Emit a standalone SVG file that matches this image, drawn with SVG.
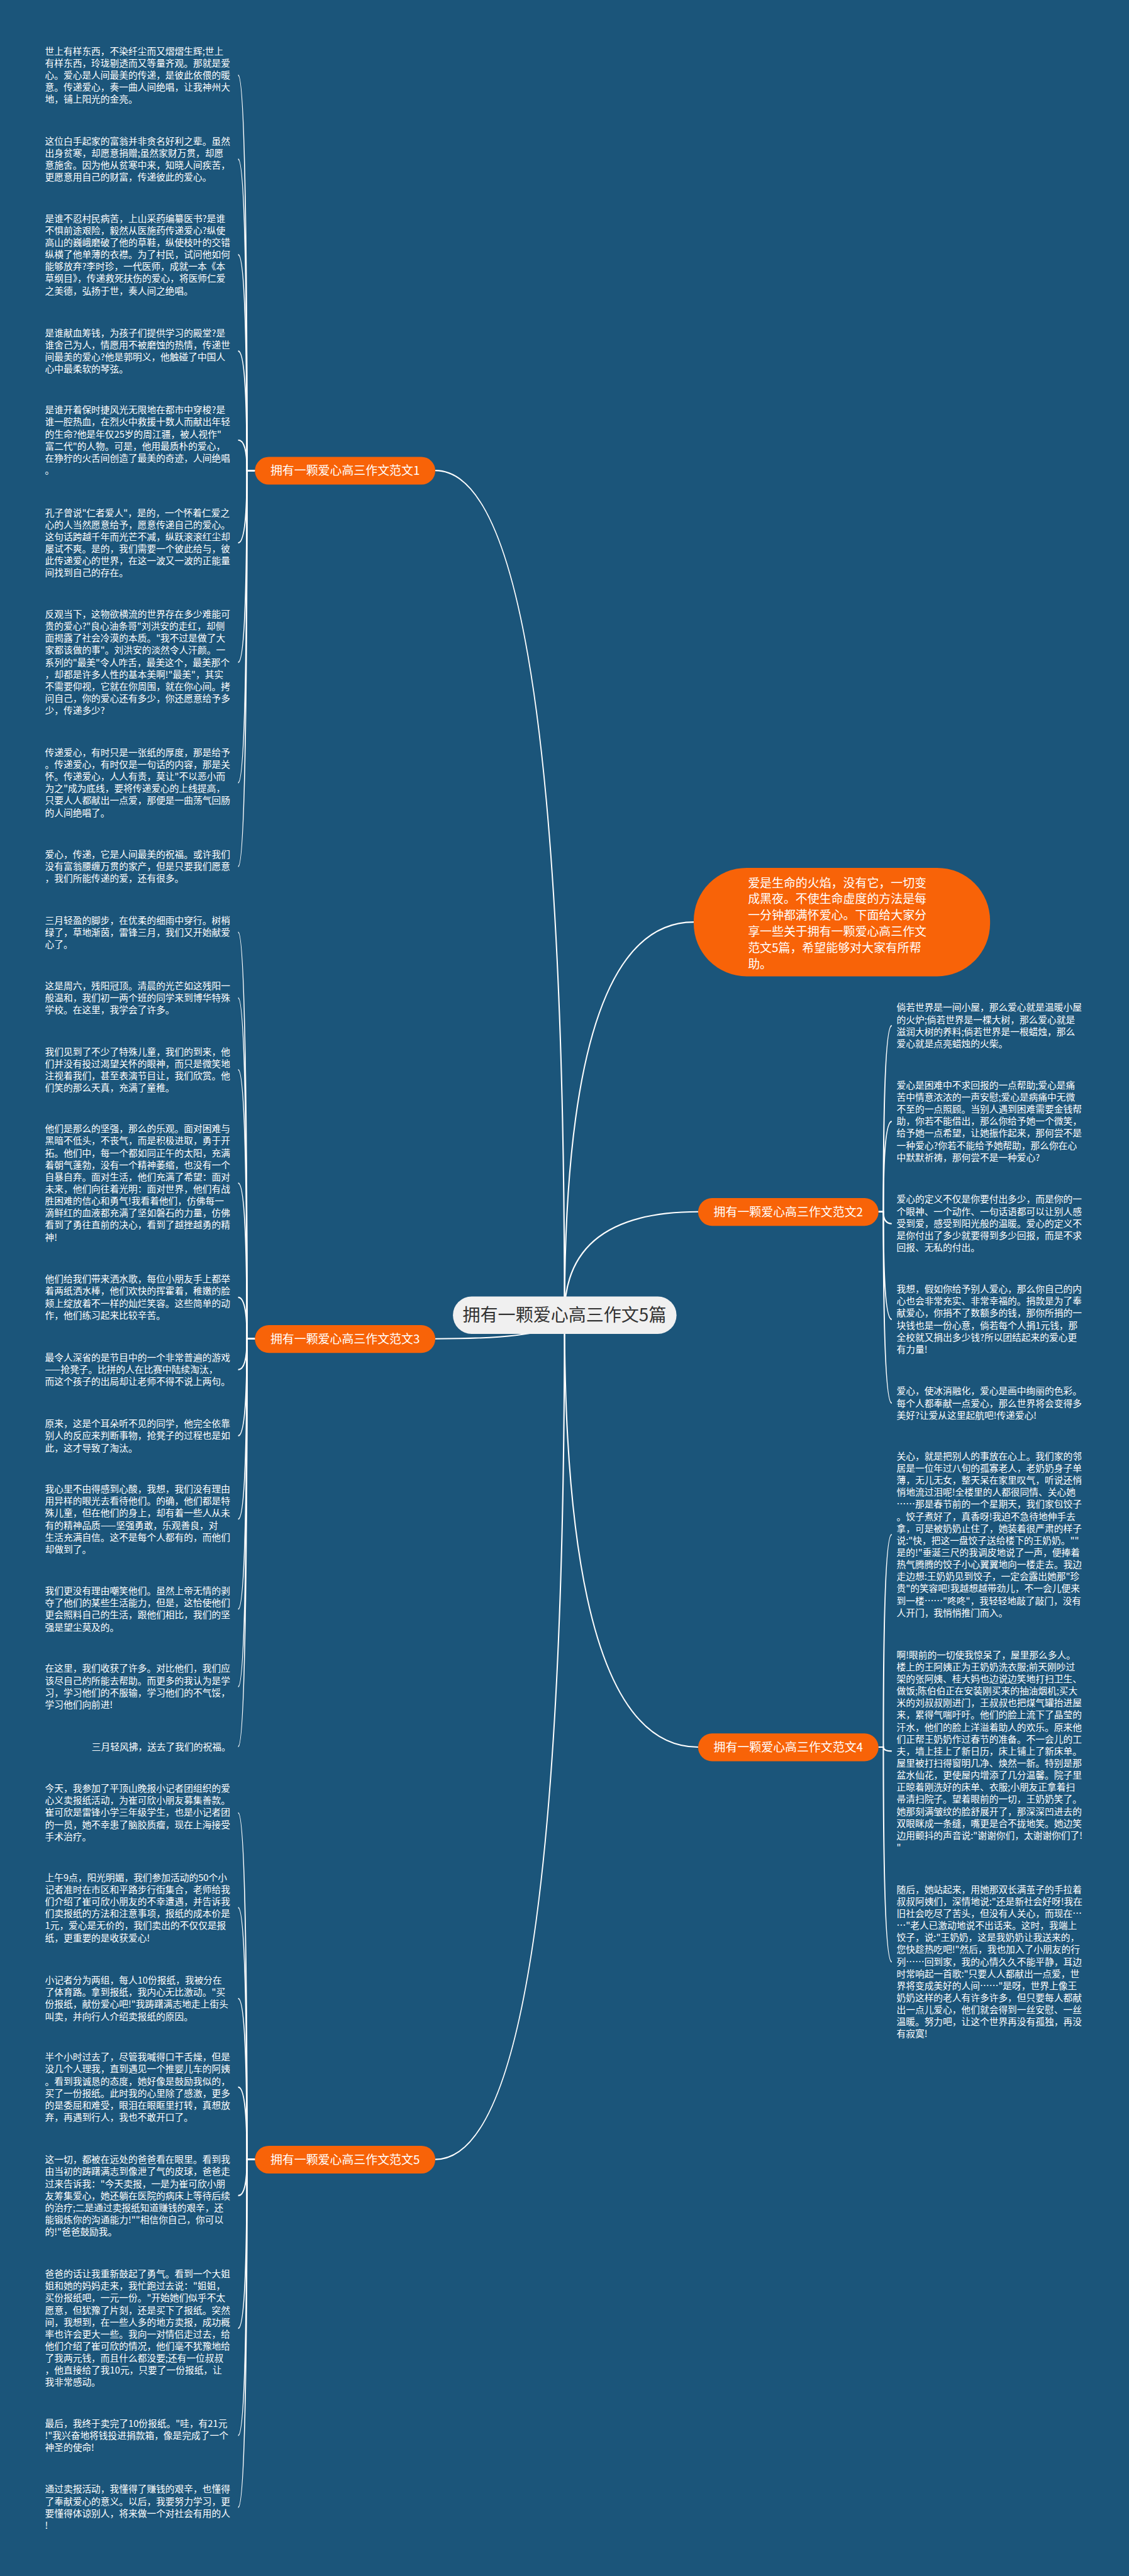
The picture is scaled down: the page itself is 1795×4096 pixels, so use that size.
<svg xmlns="http://www.w3.org/2000/svg" width="1795" height="4096" viewBox="0 0 1795 4096">
<style>
.lf{font-family:"Noto Sans CJK SC","Noto Sans",sans-serif;font-size:21px;fill:#ffffff}
.brn rect{fill:#f86308}
.brn text{font-family:"Noto Sans CJK SC","Noto Sans",sans-serif;font-size:27px;fill:#ffffff;text-anchor:middle}
.cn rect{fill:#f0f0f0}
.cn text{font-family:"Noto Sans CJK SC","Noto Sans",sans-serif;font-size:40px;fill:#333333;text-anchor:middle}
.co text{font-family:"Noto Sans CJK SC","Noto Sans",sans-serif;font-size:27px;fill:#ffffff}
.conn path{fill:none;stroke:#ffffff;stroke-width:3}
</style>
<rect width="1795" height="4096" fill="#1b557a"/>
<g transform="scale(0.70117)">
<g id="connectors" class="conn">
<path d="M987,1067 Q1280,1067 1280,2982"/>
<path d="M987,3036 Q1280,3036 1280,2982"/>
<path d="M987,4897 Q1280,4897 1280,2982"/>
<path d="M1583,2748 Q1280,2748 1280,2982"/>
<path d="M1583,3962 Q1280,3962 1280,2982"/>
<path d="M1573,2091 Q1280,2091 1280,2982"/>
<path d="M578,1067 L560,1067 Q560,170.6 540,170.6"/>
<path d="M578,1067 L560,1067 Q560,361 540,361"/>
<path d="M578,1067 L560,1067 Q560,577.5 540,577.5"/>
<path d="M578,1067 L560,1067 Q560,796 540,796"/>
<path d="M578,1067 L560,1067 Q560,998 540,998"/>
<path d="M578,1067 L560,1067 Q560,1231 540,1231"/>
<path d="M578,1067 L560,1067 Q560,1502 540,1502"/>
<path d="M578,1067 L560,1067 Q560,1775 540,1775"/>
<path d="M578,1067 L560,1067 Q560,1965 540,1965"/>
<path d="M578,3036 L560,3036 Q560,2114 540,2114"/>
<path d="M578,3036 L560,3036 Q560,2263 540,2263"/>
<path d="M578,3036 L560,3036 Q560,2426 540,2426"/>
<path d="M578,3036 L560,3036 Q560,2683 540,2683"/>
<path d="M578,3036 L560,3036 Q560,2942 540,2942"/>
<path d="M578,3036 L560,3036 Q560,3106 540,3106"/>
<path d="M578,3036 L560,3036 Q560,3256 540,3256"/>
<path d="M578,3036 L560,3036 Q560,3445 540,3445"/>
<path d="M578,3036 L560,3036 Q560,3649 540,3649"/>
<path d="M578,3036 L560,3036 Q560,3825 540,3825"/>
<path d="M578,3036 L560,3036 Q560,3961 540,3961"/>
<path d="M578,4897 L560,4897 Q560,4111 540,4111"/>
<path d="M578,4897 L560,4897 Q560,4326 540,4326"/>
<path d="M578,4897 L560,4897 Q560,4532 540,4532"/>
<path d="M578,4897 L560,4897 Q560,4733 540,4733"/>
<path d="M578,4897 L560,4897 Q560,4979 540,4979"/>
<path d="M578,4897 L560,4897 Q560,5280 540,5280"/>
<path d="M578,4897 L560,4897 Q560,5523 540,5523"/>
<path d="M578,4897 L560,4897 Q560,5686 540,5686"/>
<path d="M1992,2748 L2003,2748 Q2003,2326 2022,2326"/>
<path d="M1992,2748 L2003,2748 Q2003,2543 2022,2543"/>
<path d="M1992,2748 L2003,2748 Q2003,2775 2022,2775"/>
<path d="M1992,2748 L2003,2748 Q2003,2992 2022,2992"/>
<path d="M1992,2748 L2003,2748 Q2003,3182 2022,3182"/>
<path d="M1992,3962 L2003,3962 Q2003,3480 2022,3480"/>
<path d="M1992,3962 L2003,3962 Q2003,3971 2022,3971"/>
<path d="M1992,3962 L2003,3962 Q2003,4449 2022,4449"/>
</g>
<g id="center" class="cn"><rect x="1027" y="2940" width="507" height="85" rx="42.5"/><text x="1280" y="2996">拥有一颗爱心高三作文5篇</text></g>
<g id="intro" class="co"><rect x="1573" y="1968" width="672" height="246" rx="120" fill="#f86308"/>
<text x="1696" y="2011.7"><tspan x="1696">爱是生命的火焰，没有它，一切变</tspan><tspan x="1696" dy="36.8">成黑夜。不使生命虚度的方法是每</tspan><tspan x="1696" dy="36.8">一分钟都满怀爱心。下面给大家分</tspan><tspan x="1696" dy="36.8">享一些关于拥有一颗爱心高三作文</tspan><tspan x="1696" dy="36.8">范文5篇，希望能够对大家有所帮</tspan><tspan x="1696" dy="36.8">助。</tspan></text></g>
<g id="b1" class="brn"><rect x="578" y="1036" width="409" height="63" rx="31.5"/><text x="782.5" y="1077">拥有一颗爱心高三作文范文1</text></g>
<g id="b3" class="brn"><rect x="578" y="3005" width="409" height="63" rx="31.5"/><text x="782.5" y="3046">拥有一颗爱心高三作文范文3</text></g>
<g id="b5" class="brn"><rect x="578" y="4866" width="409" height="63" rx="31.5"/><text x="782.5" y="4907">拥有一颗爱心高三作文范文5</text></g>
<g id="b2" class="brn"><rect x="1583" y="2717" width="409" height="63" rx="31.5"/><text x="1787.5" y="2758">拥有一颗爱心高三作文范文2</text></g>
<g id="b4" class="brn"><rect x="1583" y="3931" width="409" height="63" rx="31.5"/><text x="1787.5" y="3972">拥有一颗爱心高三作文范文4</text></g>
<g id="l1"><text class="lf" x="102" y="123.5"><tspan x="102">世上有样东西，不染纤尘而又熠熠生辉;世上</tspan><tspan x="102" dy="27.3">有样东西，玲珑剔透而又等量齐观。那就是爱</tspan><tspan x="102" dy="27.3">心。爱心是人间最美的传递，是彼此依偎的暖</tspan><tspan x="102" dy="27.3">意。传递爱心，奏一曲人间绝唱，让我神州大</tspan><tspan x="102" dy="27.3">地，铺上阳光的金亮。</tspan></text></g>
<g id="l2"><text class="lf" x="102" y="327.5"><tspan x="102">这位白手起家的富翁并非贪名好利之辈。虽然</tspan><tspan x="102" dy="27.3">出身贫寒，却愿意捐赠;虽然家财万贯，却愿</tspan><tspan x="102" dy="27.3">意施舍。因为他从贫寒中来，知晓人间疾苦，</tspan><tspan x="102" dy="27.3">更愿意用自己的财富，传递彼此的爱心。</tspan></text></g>
<g id="l3"><text class="lf" x="102" y="503"><tspan x="102">是谁不忍村民病苦，上山采药编纂医书?是谁</tspan><tspan x="102" dy="27.3">不惧前途艰险，毅然从医施药传递爱心?纵使</tspan><tspan x="102" dy="27.3">高山的巍峨磨破了他的草鞋，纵使枝叶的交错</tspan><tspan x="102" dy="27.3">纵横了他单薄的衣襟。为了村民，试问他如何</tspan><tspan x="102" dy="27.3">能够放弃?李时珍，一代医师，成就一本《本</tspan><tspan x="102" dy="27.3">草纲目》，传递救死扶伤的爱心，将医师仁爱</tspan><tspan x="102" dy="27.3">之美德，弘扬于世，奏人间之绝唱。</tspan></text></g>
<g id="l4"><text class="lf" x="102" y="762.5"><tspan x="102">是谁献血筹钱，为孩子们提供学习的殿堂?是</tspan><tspan x="102" dy="27.3">谁舍己为人，情愿用不被磨蚀的热情，传递世</tspan><tspan x="102" dy="27.3">间最美的爱心?他是郭明义，他触碰了中国人</tspan><tspan x="102" dy="27.3">心中最柔软的琴弦。</tspan></text></g>
<g id="l5"><text class="lf" x="102" y="937.5"><tspan x="102">是谁开着保时捷风光无限地在都市中穿梭?是</tspan><tspan x="102" dy="27.3">谁一腔热血，在烈火中救援十数人而献出年轻</tspan><tspan x="102" dy="27.3">的生命?他是年仅25岁的周江疆，被人视作"</tspan><tspan x="102" dy="27.3">富二代"的人物。可是，他用最质朴的爱心，</tspan><tspan x="102" dy="27.3">在狰狞的火舌间创造了最美的奇迹，人间绝唱</tspan><tspan x="102" dy="27.3">。</tspan></text></g>
<g id="l6"><text class="lf" x="102" y="1170.5"><tspan x="102">孔子曾说"仁者爱人"，是的，一个怀着仁爱之</tspan><tspan x="102" dy="27.3">心的人当然愿意给予，愿意传递自己的爱心。</tspan><tspan x="102" dy="27.3">这句话跨越千年而光芒不减，纵跃滚滚红尘却</tspan><tspan x="102" dy="27.3">屡试不爽。是的，我们需要一个彼此给与，彼</tspan><tspan x="102" dy="27.3">此传递爱心的世界，在这一波又一波的正能量</tspan><tspan x="102" dy="27.3">间找到自己的存在。</tspan></text></g>
<g id="l7"><text class="lf" x="102" y="1400.5"><tspan x="102">反观当下，这物欲横流的世界存在多少难能可</tspan><tspan x="102" dy="27.3">贵的爱心?"良心油条哥"刘洪安的走红，却侧</tspan><tspan x="102" dy="27.3">面揭露了社会冷漠的本质。"我不过是做了大</tspan><tspan x="102" dy="27.3">家都该做的事"。刘洪安的淡然令人汗颜。一</tspan><tspan x="102" dy="27.3">系列的"最美"令人咋舌，最美这个，最美那个</tspan><tspan x="102" dy="27.3">，却都是许多人性的基本美啊!"最美"，其实</tspan><tspan x="102" dy="27.3">不需要仰视，它就在你周围，就在你心间。拷</tspan><tspan x="102" dy="27.3">问自己，你的爱心还有多少，你还愿意给予多</tspan><tspan x="102" dy="27.3">少，传递多少?</tspan></text></g>
<g id="l8"><text class="lf" x="102" y="1714"><tspan x="102">传递爱心，有时只是一张纸的厚度，那是给予</tspan><tspan x="102" dy="27.3">。传递爱心，有时仅是一句话的内容，那是关</tspan><tspan x="102" dy="27.3">怀。传递爱心，人人有责，莫让"不以恶小而</tspan><tspan x="102" dy="27.3">为之"成为底线，要将传递爱心的上线提高，</tspan><tspan x="102" dy="27.3">只要人人都献出一点爱，那便是一曲荡气回肠</tspan><tspan x="102" dy="27.3">的人间绝唱了。</tspan></text></g>
<g id="l9"><text class="lf" x="102" y="1945.5"><tspan x="102">爱心，传递，它是人间最美的祝福。或许我们</tspan><tspan x="102" dy="27.3">没有富翁腰缠万贯的家产，但是只要我们愿意</tspan><tspan x="102" dy="27.3">，我们所能传递的爱，还有很多。</tspan></text></g>
<g id="l10"><text class="lf" x="102" y="2094.5"><tspan x="102">三月轻盈的脚步，在优柔的细雨中穿行。树梢</tspan><tspan x="102" dy="27.3">绿了，草地渐茵，雷锋三月，我们又开始献爱</tspan><tspan x="102" dy="27.3">心了。</tspan></text></g>
<g id="l11"><text class="lf" x="102" y="2243.5"><tspan x="102">这是周六，残阳冠顶。清晨的光芒如这残阳一</tspan><tspan x="102" dy="27.3">般温和，我们初一两个班的同学来到博华特殊</tspan><tspan x="102" dy="27.3">学校。在这里，我学会了许多。</tspan></text></g>
<g id="l12"><text class="lf" x="102" y="2392.5"><tspan x="102">我们见到了不少了特殊儿童，我们的到来，他</tspan><tspan x="102" dy="27.3">们并没有投过渴望关怀的眼神，而只是微笑地</tspan><tspan x="102" dy="27.3">注视着我们，甚至表演节目让，我们欣赏。他</tspan><tspan x="102" dy="27.3">们笑的那么天真，充满了童稚。</tspan></text></g>
<g id="l13"><text class="lf" x="102" y="2567.5"><tspan x="102">他们是那么的坚强，那么的乐观。面对困难与</tspan><tspan x="102" dy="27.3">黑暗不低头，不丧气，而是积极进取，勇于开</tspan><tspan x="102" dy="27.3">拓。他们中，每一个都如同正午的太阳，充满</tspan><tspan x="102" dy="27.3">着朝气蓬勃，没有一个精神萎缩，也没有一个</tspan><tspan x="102" dy="27.3">自暴自弃。面对生活，他们充满了希望：面对</tspan><tspan x="102" dy="27.3">未来，他们向往着光明：面对世界，他们有战</tspan><tspan x="102" dy="27.3">胜困难的信心和勇气!我看着他们，仿佛每一</tspan><tspan x="102" dy="27.3">滴鲜红的血液都充满了坚如磐石的力量，仿佛</tspan><tspan x="102" dy="27.3">看到了勇往直前的决心，看到了越挫越勇的精</tspan><tspan x="102" dy="27.3">神!</tspan></text></g>
<g id="l14"><text class="lf" x="102" y="2908.5"><tspan x="102">他们给我们带来洒水歌，每位小朋友手上都举</tspan><tspan x="102" dy="27.3">着两纸洒水棒，他们欢快的挥霍着，稚嫩的脸</tspan><tspan x="102" dy="27.3">颊上绽放着不一样的灿烂笑容。这些简单的动</tspan><tspan x="102" dy="27.3">作，他们练习起来比较辛苦。</tspan></text></g>
<g id="l15"><text class="lf" x="102" y="3086.5"><tspan x="102">最令人深省的是节目中的一个非常普遍的游戏</tspan><tspan x="102" dy="27.3">——抢凳子。比拼的人在比赛中陆续淘汰，</tspan><tspan x="102" dy="27.3">而这个孩子的出局却让老师不得不说上两句。</tspan></text></g>
<g id="l16"><text class="lf" x="102" y="3236.5"><tspan x="102">原来，这是个耳朵听不见的同学，他完全依靠</tspan><tspan x="102" dy="27.3">别人的反应来判断事物，抢凳子的过程也是如</tspan><tspan x="102" dy="27.3">此，这才导致了淘汰。</tspan></text></g>
<g id="l17"><text class="lf" x="102" y="3384.5"><tspan x="102">我心里不由得感到心酸，我想，我们没有理由</tspan><tspan x="102" dy="27.3">用异样的眼光去看待他们。的确，他们都是特</tspan><tspan x="102" dy="27.3">殊儿童，但在他们的身上，却有着一些人从未</tspan><tspan x="102" dy="27.3">有的精神品质——坚强勇敢，乐观善良，对</tspan><tspan x="102" dy="27.3">生活充满自信。这不是每个人都有的，而他们</tspan><tspan x="102" dy="27.3">却做到了。</tspan></text></g>
<g id="l18"><text class="lf" x="102" y="3615.5"><tspan x="102">我们更没有理由嘲笑他们。虽然上帝无情的剥</tspan><tspan x="102" dy="27.3">夺了他们的某些生活能力，但是，这恰使他们</tspan><tspan x="102" dy="27.3">更会照料自己的生活，跟他们相比，我们的坚</tspan><tspan x="102" dy="27.3">强是望尘莫及的。</tspan></text></g>
<g id="l19"><text class="lf" x="102" y="3791.5"><tspan x="102">在这里，我们收获了许多。对比他们，我们应</tspan><tspan x="102" dy="27.3">该尽自己的所能去帮助。而更多的我认为是学</tspan><tspan x="102" dy="27.3">习，学习他们的不服输，学习他们的不气馁，</tspan><tspan x="102" dy="27.3">学习他们向前进!</tspan></text></g>
<g id="l20"><text class="lf" x="208" y="3968.5">三月轻风拂，送去了我们的祝福。</text></g>
<g id="l21"><text class="lf" x="102" y="4063.5"><tspan x="102">今天，我参加了平顶山晚报小记者团组织的爱</tspan><tspan x="102" dy="27.3">心义卖报纸活动，为崔可欣小朋友募集善款。</tspan><tspan x="102" dy="27.3">崔可欣是雷锋小学三年级学生，也是小记者团</tspan><tspan x="102" dy="27.3">的一员，她不幸患了脑胶质瘤，现在上海接受</tspan><tspan x="102" dy="27.3">手术治疗。</tspan></text></g>
<g id="l22"><text class="lf" x="102" y="4265.5"><tspan x="102">上午9点，阳光明媚，我们参加活动的50个小</tspan><tspan x="102" dy="27.3">记者准时在市区和平路步行街集合，老师给我</tspan><tspan x="102" dy="27.3">们介绍了崔可欣小朋友的不幸遭遇，并告诉我</tspan><tspan x="102" dy="27.3">们卖报纸的方法和注意事项，报纸的成本价是</tspan><tspan x="102" dy="27.3">1元，爱心是无价的，我们卖出的不仅仅是报</tspan><tspan x="102" dy="27.3">纸，更重要的是收获爱心!</tspan></text></g>
<g id="l23"><text class="lf" x="102" y="4498.5"><tspan x="102">小记者分为两组，每人10份报纸，我被分在</tspan><tspan x="102" dy="27.3">了体育路。拿到报纸，我内心无比激动。"买</tspan><tspan x="102" dy="27.3">份报纸，献份爱心吧!"我踌躇满志地走上街头</tspan><tspan x="102" dy="27.3">叫卖，并向行人介绍卖报纸的原因。</tspan></text></g>
<g id="l24"><text class="lf" x="102" y="4672.5"><tspan x="102">半个小时过去了，尽管我喊得口干舌燥，但是</tspan><tspan x="102" dy="27.3">没几个人理我，直到遇见一个推婴儿车的阿姨</tspan><tspan x="102" dy="27.3">。看到我诚恳的态度，她好像是鼓励我似的，</tspan><tspan x="102" dy="27.3">买了一份报纸。此时我的心里除了感激，更多</tspan><tspan x="102" dy="27.3">的是委屈和难受，眼泪在眼眶里打转，真想放</tspan><tspan x="102" dy="27.3">弃，再遇到行人，我也不敢开口了。</tspan></text></g>
<g id="l25"><text class="lf" x="102" y="4905"><tspan x="102">这一切，都被在远处的爸爸看在眼里。看到我</tspan><tspan x="102" dy="27.3">由当初的踌躇满志到像泄了气的皮球，爸爸走</tspan><tspan x="102" dy="27.3">过来告诉我："今天卖报，一是为崔可欣小朋</tspan><tspan x="102" dy="27.3">友筹集爱心，她还躺在医院的病床上等待后续</tspan><tspan x="102" dy="27.3">的治疗;二是通过卖报纸知道赚钱的艰辛，还</tspan><tspan x="102" dy="27.3">能锻炼你的沟通能力!""相信你自己，你可以</tspan><tspan x="102" dy="27.3">的!"爸爸鼓励我。</tspan></text></g>
<g id="l26"><text class="lf" x="102" y="5164.5"><tspan x="102">爸爸的话让我重新鼓起了勇气。看到一个大姐</tspan><tspan x="102" dy="27.3">姐和她的妈妈走来，我忙跑过去说："姐姐，</tspan><tspan x="102" dy="27.3">买份报纸吧，一元一份。"开始她们似乎不太</tspan><tspan x="102" dy="27.3">愿意，但犹豫了片刻，还是买下了报纸。突然</tspan><tspan x="102" dy="27.3">间，我想到，在一些人多的地方卖报，成功概</tspan><tspan x="102" dy="27.3">率也许会更大一些。我向一对情侣走过去，给</tspan><tspan x="102" dy="27.3">他们介绍了崔可欣的情况，他们毫不犹豫地给</tspan><tspan x="102" dy="27.3">了我两元钱，而且什么都没要;还有一位叔叔</tspan><tspan x="102" dy="27.3">，他直接给了我10元，只要了一份报纸，让</tspan><tspan x="102" dy="27.3">我非常感动。</tspan></text></g>
<g id="l27"><text class="lf" x="102" y="5503.5"><tspan x="102">最后，我终于卖完了10份报纸。"哇，有21元</tspan><tspan x="102" dy="27.3">!"我兴奋地将钱投进捐款箱，像是完成了一个</tspan><tspan x="102" dy="27.3">神圣的使命!</tspan></text></g>
<g id="l28"><text class="lf" x="102" y="5652.5"><tspan x="102">通过卖报活动，我懂得了赚钱的艰辛，也懂得</tspan><tspan x="102" dy="27.3">了奉献爱心的意义。以后，我要努力学习，更</tspan><tspan x="102" dy="27.3">要懂得体谅别人，将来做一个对社会有用的人</tspan><tspan x="102" dy="27.3">!</tspan></text></g>
<g id="r1"><text class="lf" x="2033" y="2292.5"><tspan x="2033">倘若世界是一间小屋，那么爱心就是温暖小屋</tspan><tspan x="2033" dy="27.3">的火炉;倘若世界是一棵大树，那么爱心就是</tspan><tspan x="2033" dy="27.3">滋润大树的养料;倘若世界是一根蜡烛，那么</tspan><tspan x="2033" dy="27.3">爱心就是点亮蜡烛的火柴。</tspan></text></g>
<g id="r2"><text class="lf" x="2033" y="2468.5"><tspan x="2033">爱心是困难中不求回报的一点帮助;爱心是痛</tspan><tspan x="2033" dy="27.3">苦中情意浓浓的一声安慰;爱心是病痛中无微</tspan><tspan x="2033" dy="27.3">不至的一点照顾。当别人遇到困难需要金钱帮</tspan><tspan x="2033" dy="27.3">助，你若不能借出，那么你给予她一个微笑，</tspan><tspan x="2033" dy="27.3">给予她一点希望，让她振作起来，那何尝不是</tspan><tspan x="2033" dy="27.3">一种爱心?你若不能给予她帮助，那么你在心</tspan><tspan x="2033" dy="27.3">中默默祈祷，那何尝不是一种爱心?</tspan></text></g>
<g id="r3"><text class="lf" x="2033" y="2727.5"><tspan x="2033">爱心的定义不仅是你要付出多少，而是你的一</tspan><tspan x="2033" dy="27.3">个眼神、一个动作、一句话语都可以让别人感</tspan><tspan x="2033" dy="27.3">受到爱，感受到阳光般的温暖。爱心的定义不</tspan><tspan x="2033" dy="27.3">是你付出了多少就要得到多少回报，而是不求</tspan><tspan x="2033" dy="27.3">回报、无私的付出。</tspan></text></g>
<g id="r4"><text class="lf" x="2033" y="2931"><tspan x="2033">我想，假如你给予别人爱心，那么你自己的内</tspan><tspan x="2033" dy="27.3">心也会非常充实、非常幸福的。捐款是为了奉</tspan><tspan x="2033" dy="27.3">献爱心，你捐不了数额多的钱，那你所捐的一</tspan><tspan x="2033" dy="27.3">块钱也是一份心意，倘若每个人捐1元钱，那</tspan><tspan x="2033" dy="27.3">全校就又捐出多少钱?所以团结起来的爱心更</tspan><tspan x="2033" dy="27.3">有力量!</tspan></text></g>
<g id="r5"><text class="lf" x="2033" y="3162.5"><tspan x="2033">爱心，使冰消融化，爱心是画中绚丽的色彩。</tspan><tspan x="2033" dy="27.3">每个人都奉献一点爱心，那么世界将会变得多</tspan><tspan x="2033" dy="27.3">美好?让爱从这里起航吧!传递爱心!</tspan></text></g>
<g id="r6"><text class="lf" x="2033" y="3310"><tspan x="2033">关心，就是把别人的事放在心上。我们家的邻</tspan><tspan x="2033" dy="27.3">居是一位年过八旬的孤寡老人，老奶奶身子单</tspan><tspan x="2033" dy="27.3">薄，无儿无女，整天呆在家里叹气，听说还悄</tspan><tspan x="2033" dy="27.3">悄地流过泪呢!全楼里的人都很同情、关心她</tspan><tspan x="2033" dy="27.3">……那是春节前的一个星期天，我们家包饺子</tspan><tspan x="2033" dy="27.3">。饺子煮好了，真香呀!我迫不急待地伸手去</tspan><tspan x="2033" dy="27.3">拿，可是被奶奶止住了，她装着很严肃的样子</tspan><tspan x="2033" dy="27.3">说:"快，把这一盘饺子送给楼下的王奶奶。""</tspan><tspan x="2033" dy="27.3">是的!"垂涎三尺的我调皮地说了一声，便捧着</tspan><tspan x="2033" dy="27.3">热气腾腾的饺子小心翼翼地向一楼走去。我边</tspan><tspan x="2033" dy="27.3">走边想:王奶奶见到饺子，一定会露出她那"珍</tspan><tspan x="2033" dy="27.3">贵"的笑容吧!我越想越带劲儿，不一会儿便来</tspan><tspan x="2033" dy="27.3">到一楼……"咚咚"，我轻轻地敲了敲门，没有</tspan><tspan x="2033" dy="27.3">人开门，我悄悄推门而入。</tspan></text></g>
<g id="r7"><text class="lf" x="2033" y="3760.5"><tspan x="2033">啊!眼前的一切使我惊呆了，屋里那么多人。</tspan><tspan x="2033" dy="27.3">楼上的王阿姨正为王奶奶洗衣服;前天刚吵过</tspan><tspan x="2033" dy="27.3">架的张阿姨、桂大妈也边说边笑地打扫卫生、</tspan><tspan x="2033" dy="27.3">做饭;陈伯伯正在安装刚买来的抽油烟机;买大</tspan><tspan x="2033" dy="27.3">米的刘叔叔刚进门，王叔叔也把煤气罐抬进屋</tspan><tspan x="2033" dy="27.3">来，累得气喘吁吁。他们的脸上流下了晶莹的</tspan><tspan x="2033" dy="27.3">汗水，他们的脸上洋溢着助人的欢乐。原来他</tspan><tspan x="2033" dy="27.3">们正帮王奶奶作过春节的准备。不一会儿的工</tspan><tspan x="2033" dy="27.3">夫，墙上挂上了新日历，床上铺上了新床单。</tspan><tspan x="2033" dy="27.3">屋里被打扫得窗明几净、焕然一新。特别是那</tspan><tspan x="2033" dy="27.3">盆水仙花，更使屋内增添了几分温馨。院子里</tspan><tspan x="2033" dy="27.3">正晾着刚洗好的床单、衣服;小朋友正拿着扫</tspan><tspan x="2033" dy="27.3">帚清扫院子。望着眼前的一切，王奶奶笑了。</tspan><tspan x="2033" dy="27.3">她那刻满皱纹的脸舒展开了，那深深凹进去的</tspan><tspan x="2033" dy="27.3">双眼眯成一条缝，嘴更是合不拢地笑。她边笑</tspan><tspan x="2033" dy="27.3">边用颤抖的声音说:"谢谢你们，太谢谢你们了!</tspan><tspan x="2033" dy="27.3">"</tspan></text></g>
<g id="r8"><text class="lf" x="2033" y="4292.5"><tspan x="2033">随后，她站起来，用她那双长满茧子的手拉着</tspan><tspan x="2033" dy="27.3">叔叔阿姨们，深情地说:"还是新社会好呀!我在</tspan><tspan x="2033" dy="27.3">旧社会吃尽了苦头，但没有人关心，而现在…</tspan><tspan x="2033" dy="27.3">…"老人已激动地说不出话来。这时，我端上</tspan><tspan x="2033" dy="27.3">饺子，说:"王奶奶，这是我奶奶让我送来的，</tspan><tspan x="2033" dy="27.3">您快趁热吃吧!"然后，我也加入了小朋友的行</tspan><tspan x="2033" dy="27.3">列……回到家，我的心情久久不能平静，耳边</tspan><tspan x="2033" dy="27.3">时常响起一首歌:"只要人人都献出一点爱，世</tspan><tspan x="2033" dy="27.3">界将变成美好的人间……"是呀，世界上像王</tspan><tspan x="2033" dy="27.3">奶奶这样的老人有许多许多，但只要每人都献</tspan><tspan x="2033" dy="27.3">出一点儿爱心，他们就会得到一丝安慰、一丝</tspan><tspan x="2033" dy="27.3">温暖。努力吧，让这个世界再没有孤独，再没</tspan><tspan x="2033" dy="27.3">有寂寞!</tspan></text></g>
</g>
</svg>
